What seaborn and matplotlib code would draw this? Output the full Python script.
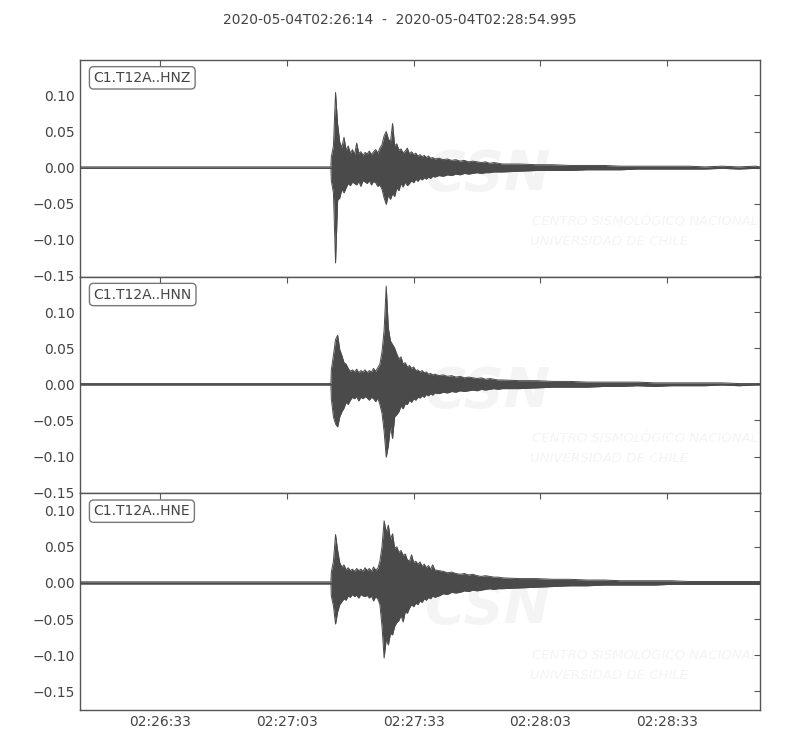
import matplotlib
matplotlib.use("Agg")
import matplotlib.pyplot as plt
import matplotlib.dates as mdates
import seaborn as sns
import numpy as np
import pandas as pd

# =========================
# DATA
# seconds after start time, envelope of each trace (upper / lower) in 1e-3 units
# =========================
start_time = "2020-05-04 02:26:14"
end_offset = 160.995
title_text = "2020-05-04T02:26:14  -  2020-05-04T02:28:54.995"
channels = ["C1.T12A..HNZ", "C1.T12A..HNN", "C1.T12A..HNE"]

seconds = [0, 20, 40, 59.4,
           59.5, 60.0, 60.5, 61.0, 61.5, 62.0, 62.5, 63.0, 63.5, 64.0,
           64.5, 65.0, 65.5, 66.0, 66.5, 67.0, 67.5, 68.0, 68.5, 69.0,
           69.5, 70.0, 70.5, 71.0, 71.5, 72.0, 72.5, 73.0, 73.5, 74.0,
           74.5, 75.0, 75.5, 76.0, 76.5, 77.0, 77.5, 78.0, 78.5, 79.0,
           79.5, 80.0, 80.5, 81.0, 81.5, 82.0, 82.5, 83.0, 83.5, 84.0,
           85, 86, 87, 88, 89, 90, 91, 92, 93, 94, 95, 96, 97, 98, 99, 100,
           104, 108, 112, 116, 120, 124, 128, 132, 136, 140, 144, 148, 152, 156, 160,
           160.995]

hnz_hi = [1, 1, 1, 1,
          15, 30, 104, 60, 35, 28, 42, 24, 30, 20,
          25, 18, 34, 20, 22, 17, 21, 19, 23, 18,
          22, 25, 20, 27, 32, 44, 50, 40, 35, 61,
          30, 33, 24, 26, 20, 23, 27, 19, 22, 18,
          20, 16, 18, 15, 17, 14, 16, 13, 14, 12,
          13, 11, 12, 10, 11, 9, 10, 8, 9, 8, 7, 8, 6, 7, 6, 5,
          5, 4, 4, 3, 3, 3, 2, 2, 2, 2, 2, 1, 2, 1, 2,
          1]
hnz_lo = [-1, -1, -1, -1,
          -18, -35, -132, -45, -42, -30, -35, -28, -22, -25,
          -20, -22, -24, -19, -26, -18, -20, -22, -18, -24,
          -19, -21, -26, -24, -30, -42, -51, -38, -44, -36,
          -40, -28, -32, -22, -27, -20, -25, -22, -18, -21,
          -16, -19, -15, -17, -14, -16, -13, -15, -12, -13,
          -11, -12, -10, -11, -9, -10, -8, -9, -8, -7, -8, -7, -7, -6, -6, -6,
          -5, -4, -4, -4, -3, -3, -3, -2, -2, -2, -2, -2, -1, -2, -1,
          -1]

hnn_hi = [1, 1, 1, 1,
          20, 40, 62, 68, 48, 40, 30, 28, 22, 18,
          20, 17, 21, 16, 19, 17, 20, 16, 19, 17,
          22, 18, 23, 28, 45, 75, 136, 78, 60, 55,
          50, 42, 35, 38, 28, 30, 24, 26, 22, 24,
          19, 20, 17, 19, 16, 17, 14, 15, 13, 14,
          12, 13, 11, 12, 10, 11, 9, 10, 9, 8, 9, 7, 8, 7, 6, 6,
          5, 5, 4, 4, 3, 3, 3, 3, 2, 2, 2, 2, 2, 1, 1,
          1]
hnn_lo = [-1, -1, -1, -1,
          -20, -45, -55, -59, -45, -38, -33, -25, -28, -22,
          -18, -20, -17, -23, -18, -20, -17, -19, -22, -18,
          -20, -24, -19, -28, -40, -65, -101, -85, -58, -75,
          -45, -42, -38, -30, -34, -27, -28, -22, -25, -20,
          -22, -18, -19, -16, -18, -14, -16, -13, -15, -12,
          -13, -11, -12, -10, -11, -9, -10, -9, -8, -9, -7, -8, -7, -6, -7, -6,
          -6, -5, -4, -4, -4, -3, -3, -2, -3, -2, -2, -2, -1, -2, -1,
          -1]

hne_hi = [1.5, 1.5, 1.5, 1.5,
          15, 30, 67, 45, 28, 22, 25, 18, 21, 17,
          19, 16, 20, 17, 19, 16, 21, 17, 20, 16,
          22, 18, 20, 30, 50, 86, 70, 80, 60, 68,
          48, 50, 42, 45, 38, 40, 32, 30, 39, 28,
          30, 26, 29, 23, 26, 21, 24, 19, 25, 18,
          17, 16, 14, 15, 13, 12, 13, 11, 12, 10, 9, 10, 9, 8, 8, 7,
          6, 6, 5, 5, 4, 4, 3, 3, 3, 3, 2, 2, 2, 2, 2,
          2]
hne_lo = [-1.5, -1.5, -1.5, -1.5,
          -18, -32, -57, -40, -30, -26, -22, -24, -18, -20,
          -16, -19, -17, -21, -16, -18, -19, -17, -21, -18,
          -25, -19, -22, -30, -60, -104, -78, -86, -70, -72,
          -60, -55, -52, -45, -54, -40, -42, -35, -30, -33,
          -28, -30, -25, -27, -22, -24, -20, -22, -18, -20,
          -18, -15, -16, -13, -14, -13, -11, -12, -10, -11, -10, -9, -8, -9, -8, -8,
          -7, -6, -5, -4, -4, -3, -3, -3, -3, -2, -2, -2, -2, -2, -2,
          -2]

y_limits = [(-0.151, 0.149), (-0.151, 0.149), (-0.176, 0.124)]
y_ticks = [-0.15, -0.10, -0.05, 0.0, 0.05, 0.10]

# =========================
# STYLE
# =========================
sns.set_theme(style="white")
plt.rcParams["font.family"] = ["DejaVu Sans"]
text_col = "#444444"
trace_col = "#4a4a4a"
mark_col = "#f4f4f4"
plt.rcParams.update({
    "axes.edgecolor": "#555555",
    "axes.linewidth": 1.0,
    "text.color": text_col,
    "xtick.color": "#555555",
    "ytick.color": "#555555",
    "xtick.labelcolor": text_col,
    "ytick.labelcolor": text_col,
    "xtick.labelsize": 10,
    "ytick.labelsize": 10,
})

t0 = pd.Timestamp(start_time)
times = t0 + pd.to_timedelta(seconds, unit="s")
envelopes = [(hnz_hi, hnz_lo), (hnn_hi, hnn_lo), (hne_hi, hne_lo)]

fig, axes = plt.subplots(3, 1, figsize=(8, 7.5), dpi=100, sharex=True)
fig.subplots_adjust(left=0.1, right=0.95, top=0.92, bottom=0.0533, hspace=0)

for ax, name, (hi, lo), ylim in zip(axes, channels, envelopes, y_limits):
    df = pd.DataFrame({"time": times,
                       "hi": np.array(hi) / 1000.0,
                       "lo": np.array(lo) / 1000.0})

    # faint CSN watermark behind the trace
    ax.text(0.60, 0.47, "CSN", transform=ax.transAxes, fontsize=40,
            fontweight="bold", fontstyle="italic", color=mark_col,
            ha="center", va="center", zorder=0, clip_on=True)
    ax.text(0.665, 0.253, "CENTRO SISMOLÓGICO NACIONAL", transform=ax.transAxes,
            fontsize=9.5, fontstyle="italic", color=mark_col,
            ha="left", va="center", zorder=0, clip_on=True)
    ax.text(0.662, 0.161, "UNIVERSIDAD DE CHILE", transform=ax.transAxes,
            fontsize=9.5, fontstyle="italic", color=mark_col,
            ha="left", va="center", zorder=0, clip_on=True)

    ax.fill_between(df["time"], df["lo"], df["hi"], color=trace_col, lw=0, zorder=2)
    sns.lineplot(data=df, x="time", y="hi", ax=ax, color=trace_col, lw=0.7, zorder=3)
    sns.lineplot(data=df, x="time", y="lo", ax=ax, color=trace_col, lw=0.7, zorder=3)

    ax.set_ylim(*ylim)
    ax.set_yticks(y_ticks)
    ax.set_yticklabels([f"{v:.2f}".replace("-", "\u2212") for v in y_ticks])
    ax.set_xlabel("")
    ax.set_ylabel("")
    ax.tick_params(direction="in", top=True, right=True, length=4, width=0.8)

    ax.text(0.02, 0.95, name, transform=ax.transAxes, fontsize=10, color=text_col,
            ha="left", va="top", zorder=5,
            bbox=dict(boxstyle="round,pad=0.3", fc="white", ec="#777777", lw=1))

axes[-1].set_xlim(t0, t0 + pd.Timedelta(seconds=end_offset))
axes[-1].xaxis.set_major_locator(mdates.SecondLocator(bysecond=[3, 33]))
axes[-1].xaxis.set_major_formatter(mdates.DateFormatter("%H:%M:%S"))
for ax in axes[:-1]:
    ax.tick_params(labelbottom=False)

fig.text(0.5, 0.973, title_text, ha="center", va="center", fontsize=10, color=text_col)

fig.savefig("out.png", dpi=100)
